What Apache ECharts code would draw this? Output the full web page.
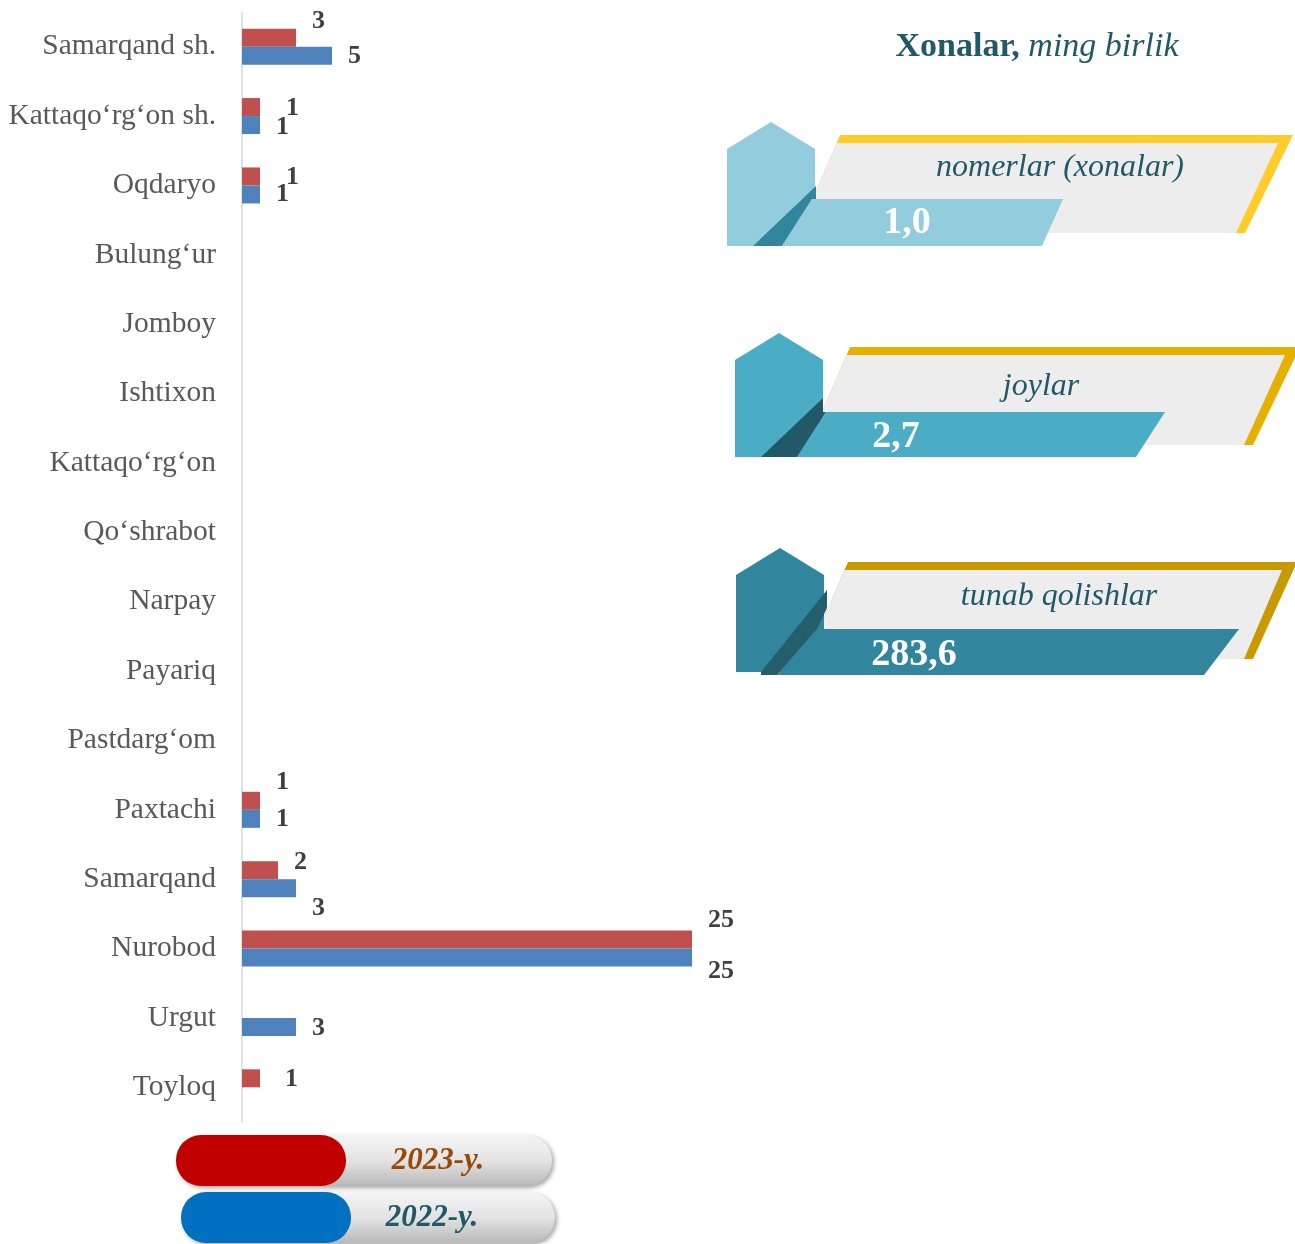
<!DOCTYPE html>
<html>
<head>
<meta charset="utf-8">
<script src="https://cdn.jsdelivr.net/npm/echarts@6/dist/echarts.min.js"></script>
<style>
  html, body { margin: 0; padding: 0; background: #fff; }
  #chart { width: 1295px; height: 1244px; }
</style>
</head>
<body>
<div id="chart"></div>
<script>
// tumanlar
const categories = [
  'Samarqand sh.', 'Kattaqo‘rg‘on sh.', 'Oqdaryo', 'Bulung‘ur', 'Jomboy',
  'Ishtixon', 'Kattaqo‘rg‘on', 'Qo‘shrabot', 'Narpay', 'Payariq',
  'Pastdarg‘om', 'Paxtachi', 'Samarqand', 'Nurobod', 'Urgut', 'Toyloq'
];
const seriesNames = ['2023-y.', '2022-y.'];
const values2023 = [3, 1, 1, null, null, null, null, null, null, null, null, 1, 2, 25, null, 1];
const values2022 = [5, 1, 1, null, null, null, null, null, null, null, null, 1, 3, 25, 3, null];

// o'ng tomondagi ko'rsatkichlar
const roomsTitle = ['Xonalar,', 'ming birlik'];
const panelNames = ['nomerlar (xonalar)', 'joylar', 'tunab qolishlar'];
const panelValues = ['1,0', '2,7', '283,6'];

const SERIF = '"Liberation Serif", "Times New Roman", serif';

// qo'lda surilgan yorliqlar (Excel'dagidek)
const labelShift2023 = { 0: [0, -16], 1: [10, 1], 2: [10, 1], 11: [0, -19], 12: [0, -8], 13: [0, -19], 15: [9, 1] };
const labelShift2022 = { 0: [0, 1], 1: [0, 2], 12: [0, 20], 13: [0, 14], 14: [0, 1] };

const chart = echarts.init(document.getElementById('chart'));

const labelStyle = {
  show: true,
  position: 'right',
  distance: 16,
  fontFamily: SERIF,
  fontWeight: 'bold',
  fontSize: 26,
  color: '#404040'
};

const withLabels = (values, shifts) => values.map((v, i) => {
  if (v == null) return null;
  return shifts[i] ? { value: v, label: { offset: shifts[i] } } : v;
});

// dekorativ panel (uycha + lenta)
function panel(p, name, value) {
  const els = [];
  els.push({
    type: 'polygon',
    shape: { points: [[p.tl, p.yt], [p.tr, p.yt], [p.br, p.yb], [p.tl - 0.43 * (p.yb - p.yt), p.yb]] },
    style: { fill: p.gold }
  });
  els.push({
    type: 'polygon',
    shape: { points: [[p.tl - 3.5, p.yt + 8], [p.tr - 15, p.yt + 8], [p.br - 9, p.yb], [p.tl - 0.43 * (p.yb - p.yt), p.yb]] },
    style: { fill: '#EDEDED' }
  });
  const L = p.L;
  els.push({
    type: 'polygon',
    shape: { points: [[L, p.apex + 27], [L + 44, p.apex], [L + 88, p.apex + 27], [L + 88, p.apex + 124], [L, p.apex + 124]] },
    style: { fill: p.main }
  });
  els.push({
    type: 'polygon',
    shape: { points: p.dark },
    style: { fill: p.darkColor }
  });
  els.push({
    type: 'polygon',
    shape: { points: p.bar },
    style: { fill: p.main }
  });
  els.push({
    type: 'text',
    x: p.nameX, y: p.nameY,
    style: {
      text: name, x: 0, y: 0, align: 'center', verticalAlign: 'middle',
      font: 'italic 32px ' + SERIF, fill: '#215968'
    }
  });
  els.push({
    type: 'text',
    x: p.valX, y: p.valY,
    style: {
      text: value, x: 0, y: 0, align: 'center', verticalAlign: 'middle',
      font: 'bold 38px ' + SERIF, fill: '#ffffff'
    }
  });
  return els;
}

const panels = [
  {
    L: 727, apex: 122, tl: 840, tr: 1293, br: 1245, yt: 135, yb: 233,
    main: '#93CDDD', darkColor: '#31859C', gold: '#FFCC29',
    dark: [[753, 246], [816, 186], [816, 199], [812, 199], [782, 246]],
    bar: [[812, 199], [1063, 199], [1042, 246], [782, 246]],
    nameX: 1060, nameY: 168, valX: 907, valY: 223
  },
  {
    L: 735, apex: 333, tl: 850, tr: 1300, br: 1253, yt: 347, yb: 445,
    main: '#4BACC6', darkColor: '#215968', gold: '#E6B000',
    dark: [[761, 457], [823, 398], [823, 412], [826, 412], [797, 457]],
    bar: [[826, 412], [1165, 412], [1136, 457], [797, 457]],
    nameX: 1041, nameY: 387, valX: 896, valY: 437
  },
  {
    L: 736, apex: 548, tl: 848, tr: 1297, br: 1253, yt: 562, yb: 659,
    main: '#31859C', darkColor: '#255E6B', gold: '#C89A00',
    dark: [[761, 672], [827, 590], [827, 608], [817, 629], [777, 675], [761, 675]],
    bar: [[817, 629], [1239, 629], [1204, 675], [777, 675]],
    nameX: 1059, nameY: 597, valX: 914, valY: 655
  }
];

// legenda (kapsulalar)
function pill(x, y, w, color, label, textColor, textX) {
  return [
    {
      type: 'rect',
      shape: { x: x, y: y, width: w, height: 51, r: 25 },
      style: {
        fill: new echarts.graphic.LinearGradient(0, 0, 0, 1, [
          { offset: 0, color: '#f4f4f4' },
          { offset: 0.5, color: '#e4e4e4' },
          { offset: 1, color: '#b8b8b8' }
        ]),
        shadowBlur: 4, shadowColor: 'rgba(0,0,0,0.35)', shadowOffsetX: 2, shadowOffsetY: 2
      }
    },
    {
      type: 'rect',
      shape: { x: x, y: y, width: 170, height: 51, r: 25 },
      style: { fill: color }
    },
    {
      type: 'text',
      x: textX, y: y + 26,
      style: {
        text: label, x: 0, y: 0, align: 'center', verticalAlign: 'middle',
        font: 'italic bold 31px ' + SERIF, fill: textColor
      }
    }
  ];
}

let graphics = [];
panels.forEach((p, i) => { graphics = graphics.concat(panel(p, panelNames[i], panelValues[i])); });
graphics.push({
  type: 'text',
  x: 1037, y: 47,
  style: {
    text: '{b|' + roomsTitle[0] + ' }{i|' + roomsTitle[1] + '}',
    x: 0, y: 0, align: 'center', verticalAlign: 'middle',
    fill: '#215968',
    rich: {
      b: { fontFamily: SERIF, fontWeight: 'bold', fontSize: 34, fill: '#215968' },
      i: { fontFamily: SERIF, fontStyle: 'italic', fontSize: 34, fill: '#215968' }
    }
  }
});
graphics = graphics.concat(pill(176, 1135, 376, '#C00000', seriesNames[0], '#984807', 438));
graphics = graphics.concat(pill(181, 1192, 374, '#0070C0', seriesNames[1], '#215968', 432));

const option = {
  backgroundColor: '#ffffff',
  animation: false,
  grid: { left: 242, top: 12, width: 450, height: 1110, containLabel: false },
  xAxis: {
    type: 'value',
    min: 0,
    max: 25,
    show: false
  },
  yAxis: {
    type: 'category',
    inverse: true,
    data: categories,
    axisLine: { show: true, lineStyle: { color: '#D9D9D9', width: 1.5 } },
    axisTick: { show: false },
    axisLabel: {
      margin: 26,
      fontFamily: SERIF,
      fontSize: 29.5,
      color: '#595959'
    }
  },
  series: [
    {
      name: seriesNames[0],
      type: 'bar',
      data: withLabels(values2023, labelShift2023),
      barWidth: 18,
      barGap: '0%',
      itemStyle: { color: '#C0504D' },
      label: labelStyle
    },
    {
      name: seriesNames[1],
      type: 'bar',
      data: withLabels(values2022, labelShift2022),
      barWidth: 18,
      barGap: '0%',
      itemStyle: { color: '#4F81BD' },
      label: labelStyle
    }
  ],
  graphic: graphics
};

chart.setOption(option);
</script>
</body>
</html>
